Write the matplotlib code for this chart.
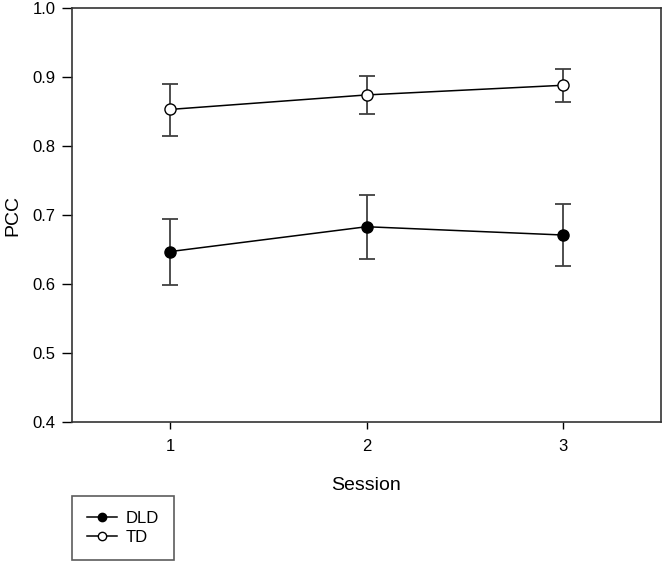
import matplotlib
matplotlib.use("Agg")
import matplotlib.pyplot as plt

plt.rcParams['font.family'] = ['Liberation Sans', 'DejaVu Sans']

# Data
sessions = [1, 2, 3]
dld_mean = [0.647, 0.683, 0.671]
dld_upper = [0.694, 0.729, 0.716]
dld_lower = [0.599, 0.636, 0.626]
td_mean = [0.853, 0.874, 0.888]
td_upper = [0.890, 0.902, 0.911]
td_lower = [0.814, 0.847, 0.864]

fig = plt.figure(figsize=(6.64, 5.61), dpi=100)
ax = fig.add_axes([72 / 664, 1 - 422 / 561, (661 - 72) / 664, (422 - 8) / 561])

def draw(mean, lo, hi, face, label):
    yerr = [[m - l for m, l in zip(mean, lo)], [h - m for m, h in zip(mean, hi)]]
    ax.errorbar(sessions, mean, yerr=yerr, fmt='none', ecolor='#404040',
                elinewidth=1.3, capsize=6, capthick=1.3, zorder=2)
    ax.plot(sessions, mean, color='black', lw=1.1, marker='o', ms=8,
            mfc=face, mec='black', mew=1.0, label=label, zorder=3)

draw(dld_mean, dld_lower, dld_upper, 'black', 'DLD')
draw(td_mean, td_lower, td_upper, 'white', 'TD')

ax.set_xlim(0.5, 3.5)
ax.set_ylim(0.4, 1.0)
ax.set_xticks(sessions)
ax.set_yticks([0.4, 0.5, 0.6, 0.7, 0.8, 0.9, 1.0])
ax.set_yticklabels(['0.4', '0.5', '0.6', '0.7', '0.8', '0.9', '1.0'])
ax.tick_params(direction='out', width=1, labelsize=12, colors='black')
ax.tick_params(axis='y', length=7, pad=5)
ax.tick_params(axis='x', length=5, pad=7)
for s in ax.spines.values():
    s.set_linewidth(1.2)
    s.set_color('#333333')

ax.set_xlabel('Session', fontsize=14, labelpad=17)
ax.set_ylabel('PCC', fontsize=14, labelpad=8)

leg = ax.legend(loc='upper left', bbox_to_anchor=(72 / 664, 1 - 496 / 561),
                bbox_transform=fig.transFigure, borderaxespad=0, fancybox=False,
                edgecolor='#333333', fontsize=12, handlelength=1.8,
                handletextpad=0.5, borderpad=0.9, labelspacing=0.25,
                markerscale=0.75)
leg.get_frame().set_linewidth(1.2)

fig.savefig('out.png', dpi=100)
